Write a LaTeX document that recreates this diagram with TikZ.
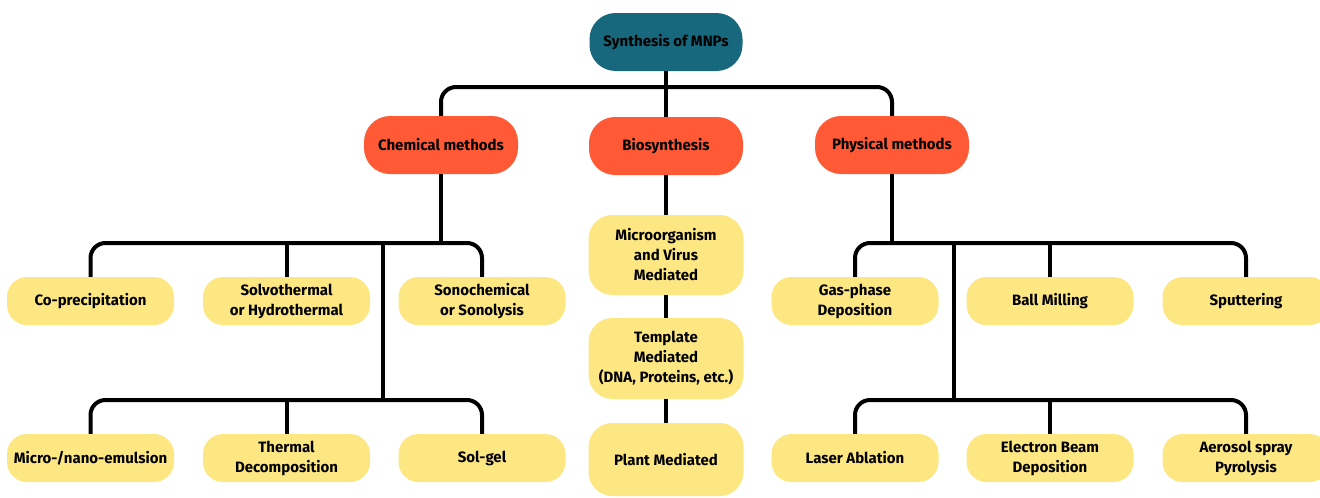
\documentclass[tikz,border=0pt]{standalone}
\usepackage{fontspec}
\setmainfont{Fira Sans}
\usepackage{xcolor}
\usepackage{tikz}

\definecolor{rootteal}{HTML}{17687C}
\definecolor{groupred}{HTML}{FF5A35}
\definecolor{leafyellow}{HTML}{FDE783}

\begin{document}
\begin{tikzpicture}[x=1pt, y=-1pt,
    box/.style={rounded corners=20pt, align=center, inner sep=0pt, text=black,
        font=\fontsize{15}{20}\selectfont\bfseries},
    rootbox/.style={box, fill=rootteal, minimum width=153pt, minimum height=58pt, rounded corners=26pt},
    groupbox/.style={box, fill=groupred, minimum width=154pt, minimum height=58pt, rounded corners=26pt},
    leafbox/.style={box, fill=leafyellow, minimum width=167pt, minimum height=48pt},
    biobox/.style={box, fill=leafyellow, minimum width=155pt, rounded corners=24pt},
    link/.style={line width=4pt, rounded corners=15pt}]
            \useasboundingbox (0,0) rectangle (1320,498);

            % top levels
            \node[rootbox] (root) at (666, 42) {Synthesis of MNPs};
            \node[groupbox] (chem) at (441, 145) {Chemical methods};
            \node[groupbox] (bio) at (666, 146) {Biosynthesis};
            \node[groupbox] (phys) at (892, 145) {Physical methods};

            % chemical
            \node[leafbox] (copr) at (90.5, 301) {Co-precipitation};
            \node[leafbox] (solvo) at (286.5, 301) {Solvothermal\\or Hydrothermal};
            \node[leafbox] (sono) at (482, 301) {Sonochemical\\or Sonolysis};
            \node[leafbox] (emul) at (90.5, 458) {Micro-/nano-emulsion};
            \node[leafbox] (thermo) at (286.5, 458) {Thermal\\Decomposition};
            \node[leafbox] (solgel) at (482, 458) {Sol-gel};

            % biosynthesis
            \node[biobox, minimum height=80pt] (microb) at (666, 255) {Microorganism\\and Virus\\Mediated};
            \node[biobox, minimum height=81pt] (templ) at (666, 358.5) {Template\\Mediated\\(DNA, Proteins, etc.)};
            \node[biobox, minimum height=73pt] (plant) at (666, 459.5) {Plant Mediated};

            % physical
            \node[leafbox] (gas) at (855, 301) {Gas-phase\\Deposition};
            \node[leafbox] (ball) at (1050, 301) {Ball Milling};
            \node[leafbox] (sputter) at (1246, 301) {Sputtering};
            \node[leafbox] (laser) at (855, 458) {Laser Ablation};
            \node[leafbox] (ebeam) at (1050, 458) {Electron Beam\\Deposition};
            \node[leafbox] (aerosol) at (1246, 458) {Aerosol spray\\Pyrolysis};

            \coordinate (topbar) at (666, 87);
            \coordinate (chembar) at (441, 243);
            \coordinate (chemsplit) at (383, 243);
            \coordinate (chemlow) at (383, 400);
            \coordinate (physbar) at (892, 243);
            \coordinate (physsplit) at (954, 243);
            \coordinate (physlow) at (954, 400);

            \draw[link] (root) -- (bio);
            \draw[link] (chem.north) |- (topbar) -| (phys.north);

            \draw[link] (chem) -- (chembar);
            \draw[link] (copr.north) |- (chembar) -| (sono.north);
            \draw[link] (solvo.north) -- (solvo.north |- chembar);
            \draw[link] (chemsplit) -- (chemlow);
            \draw[link] (emul.north) |- (chemlow) -| (solgel.north);
            \draw[link] (thermo.north) -- (thermo.north |- chemlow);

            \draw[link] (bio) -- (microb) -- (templ) -- (plant);

            \draw[link] (phys) -- (physbar);
            \draw[link] (gas.north) |- (physbar) -| (sputter.north);
            \draw[link] (ball.north) -- (ball.north |- physbar);
            \draw[link] (physsplit) -- (physlow);
            \draw[link] (laser.north) |- (physlow) -| (aerosol.north);
            \draw[link] (ebeam.north) -- (ebeam.north |- physlow);
        \end{tikzpicture}
\end{document}
